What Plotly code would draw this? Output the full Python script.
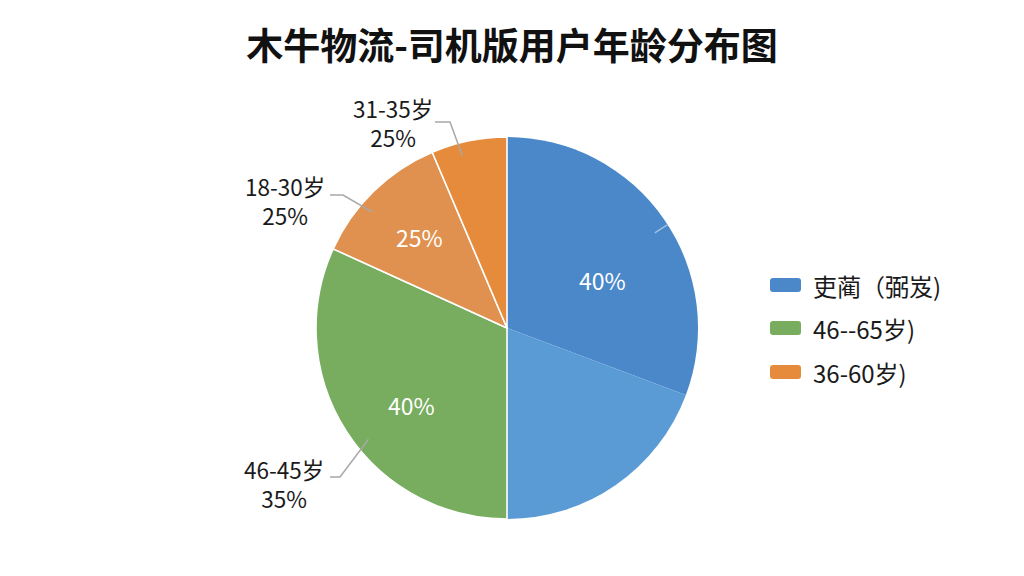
import math
import plotly.graph_objects as go

# ---------------- data ----------------
slice_names = ["吏蔺（弼岌)-a", "吏蔺（弼岌)-b", "46--65岁)", "18-30岁", "31-35岁"]
slice_shares = [30.7, 19.3, 31.8, 11.8, 6.4]          # share of the circle, %
slice_colors = ["#4a88c9", "#5b9bd5", "#78ad60", "#e0914f", "#e68b3c"]
inside_texts = ["40%", "", "40%", "25%", ""]
outside_texts = ["", "", "46-45岁<br>35%", "18-30岁<br>25%", "31-35岁<br>25%"]
legend_names = ["吏蔺（弼岌)", "46--65岁)", "36-60岁)"]
legend_colors = ["#4a88c9", "#78ad60", "#e68b3c"]
title_text = "木牛物流-司机版用户年龄分布图"

# ---------------- layout helpers ----------------
W, H = 1024, 576
CX, CY, R = 507, 328, 191          # pie centre / radius in px
FONT = "Noto Sans CJK SC"
LEAD = "#a8a8a8"


def px(x, y):
    return x / W, 1 - y / H


total = sum(slice_shares)
starts = []
acc = 0.0
for v in slice_shares:
    starts.append(360 * acc / total)
    acc += v
mids = [s + 180 * v / total for s, v in zip(starts, slice_shares)]


def polar(angle, rfrac):
    a = math.radians(angle)
    return CX + R * rfrac * math.sin(a), CY - R * rfrac * math.cos(a)


fig = go.Figure()
fig.add_trace(go.Pie(
    labels=slice_names, values=slice_shares, sort=False, direction="clockwise",
    rotation=0, textinfo="none", hoverinfo="label+percent", showlegend=False,
    marker=dict(colors=slice_colors,
                line=dict(color="white", width=[0, 0, 1.6, 1.6, 1.6])),
    domain=dict(x=[(CX - R) / W, (CX + R) / W], y=[1 - (CY + R) / H, 1 - (CY - R) / H]),
))

annotations = []
shapes = []

# inside labels: (angle offset from slice middle, radius fraction)
inside_pos = {0: (8, 0.56), 2: (-6, 0.64), 3: (0.5, 0.66)}
for i, (da, rf) in inside_pos.items():
    x, y = polar(mids[i] + da, rf)
    xp, yp = px(x, y)
    annotations.append(dict(x=xp, y=yp, xref="paper", yref="paper", text=inside_texts[i],
                            showarrow=False, font=dict(family=FONT, size=23, color="white"),
                            xanchor="center", yanchor="middle"))

# outside labels: slice index -> (angle offset, text centre px, leader end px, elbow px)
outside_pos = {
    4: (-3, (393, 122), (435, 122), (450, 122)),
    3: (-5, (285, 200), (330, 195), (343, 195)),
    2: (-6, (284, 483), (330, 477), (340, 477)),
}
for i, (da, tc, end, elbow) in outside_pos.items():
    ax, ay = polar(mids[i] + da, 0.93)
    xp, yp = px(*tc)
    annotations.append(dict(x=xp, y=yp, xref="paper", yref="paper", text=outside_texts[i],
                            showarrow=False, font=dict(family=FONT, size=22.5, color="#1a1a1a"),
                            xanchor="center", yanchor="middle", align="center"))
    p = [px(*end), px(*elbow), px(ax, ay)]
    path = "M {},{} L {},{} L {},{}".format(p[0][0], p[0][1], p[1][0], p[1][1], p[2][0], p[2][1])
    shapes.append(dict(type="path", path=path, xref="paper", yref="paper",
                       line=dict(color=LEAD, width=1.5)))

# small leader tick on the blue slice
b0 = px(*polar(mids[0] + 2, 0.92))
b1 = px(*polar(mids[0] + 2, 1.0))
shapes.append(dict(type="line", x0=b0[0], y0=b0[1], x1=b1[0], y1=b1[1], xref="paper", yref="paper",
                   line=dict(color="#9fc0e4", width=1.5)))

# legend (drawn manually)
leg_y = [285, 328, 372]
for name, col, ly in zip(legend_names, legend_colors, leg_y):
    x0, x1, y0, y1, rr = 770, 801, ly - 7, ly + 7, 3
    pts = [
        ("M", x0 + rr, y0), ("L", x1 - rr, y0), ("Q", x1, y0, x1, y0 + rr), ("L", x1, y1 - rr),
        ("Q", x1, y1, x1 - rr, y1), ("L", x0 + rr, y1), ("Q", x0, y1, x0, y1 - rr),
        ("L", x0, y0 + rr), ("Q", x0, y0, x0 + rr, y0),
    ]
    segs = []
    for p_ in pts:
        cmd = p_[0]
        coords = p_[1:]
        conv = []
        for k in range(0, len(coords), 2):
            a_, b_ = px(coords[k], coords[k + 1])
            conv.append(f"{a_},{b_}")
        segs.append(cmd + " " + " ".join(conv))
    shapes.append(dict(type="path", path=" ".join(segs) + " Z", xref="paper", yref="paper",
                       fillcolor=col, line=dict(width=0)))
    tx, ty = px(811, ly)
    annotations.append(dict(x=tx, y=ty, xref="paper", yref="paper", text=name, showarrow=False,
                            font=dict(family=FONT, size=24, color="#1a1a1a"),
                            xanchor="left", yanchor="middle"))

fig.update_layout(
    width=W, height=H,
    margin=dict(l=0, r=0, t=0, b=0),
    paper_bgcolor="white", plot_bgcolor="white",
    title=dict(text=f"<b>{title_text}</b>", x=0.5, xanchor="center", y=1 - 47 / H, yanchor="middle",
               font=dict(family=FONT, size=37, color="#111111")),
    annotations=annotations, shapes=shapes,
    showlegend=False,
)

fig.write_html("out.html", config={"displayModeBar": False},
               post_script="document.body.style.margin='0';")
